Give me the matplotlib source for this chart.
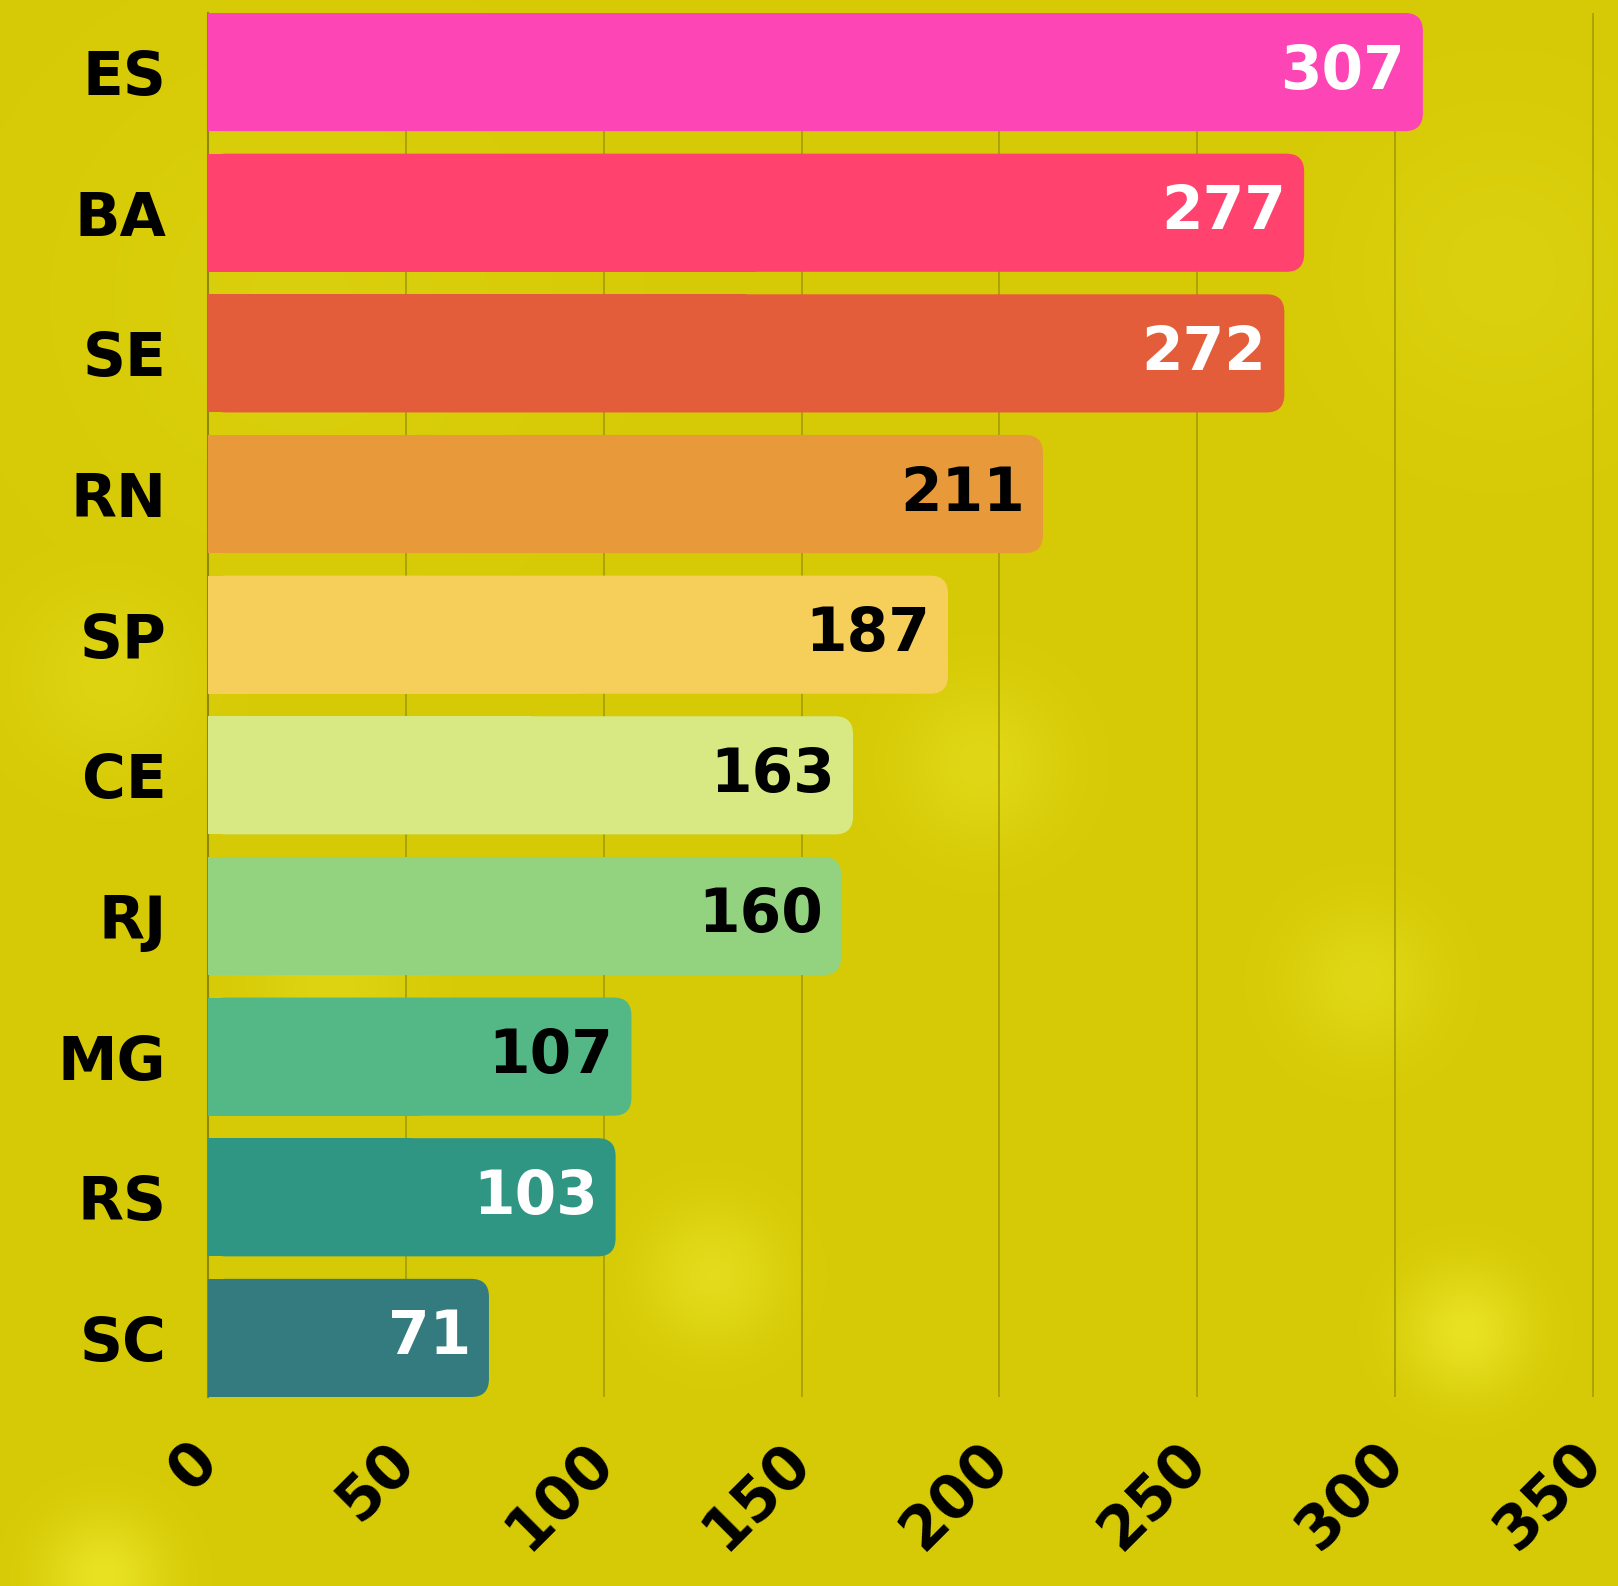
import numpy as np
import matplotlib
matplotlib.use("Agg")
import matplotlib.pyplot as plt
from matplotlib.patches import FancyBboxPatch, Rectangle

# data
states = ["ES", "BA", "SE", "RN", "SP", "CE", "RJ", "MG", "RS", "SC"]
values = [307, 277, 272, 211, 187, 163, 160, 107, 103, 71]
bar_colors = ["#fd45b5", "#ff426e", "#e35d3b", "#e89a3a", "#f5cf59",
              "#d8e983", "#93d37f", "#53b885", "#2f9684", "#337b7e"]
label_colors = ["white", "white", "white", "black", "black",
                "black", "black", "black", "white", "white"]
xticks = [0, 50, 100, 150, 200, 250, 300, 350]

W, H = 1618, 1586
fig = plt.figure(figsize=(W / 100, H / 100), dpi=100)

# background with a few soft glows
bg = fig.add_axes([0, 0, 1, 1], zorder=-10)
yy, xx = np.mgrid[0:H:2, 0:W:2]
base = np.array([214, 201, 5], float) / 255
glow = np.array([236, 232, 42], float) / 255
amt = np.zeros_like(xx, dtype=float)
blobs = [(108, 676, 70, 0.35), (980, 763, 60, 0.45), (1362, 980, 55, 0.45),
         (712, 1274, 50, 0.6), (1465, 1330, 45, 0.8), (103, 1575, 45, 0.8),
         (1500, 270, 120, 0.25), (330, 985, 60, 0.35), (300, 300, 200, 0.2)]
for bx, by, r, a in blobs:
    amt = np.maximum(amt, a * np.exp(-((xx - bx) ** 2 + (yy - by) ** 2) / (2 * r ** 2)))
img = base[None, None, :] * (1 - amt[..., None]) + glow[None, None, :] * amt[..., None]
bg.imshow(img, extent=[0, W, H, 0], aspect="auto", interpolation="bilinear")
bg.axis("off")

left, right = 208 / W, 1597 / W
top, bottom = 1 - 13 / H, 1 - 1397 / H
ax = fig.add_axes([left, bottom, right - left, top - bottom])
ax.patch.set_alpha(0)

font = "DejaVu Sans"
fs = 43
ypos = np.arange(len(states))
bar_h = 0.84
bars = ax.barh(ypos, values, height=bar_h, color=bar_colors, zorder=3)

ax.set_xlim(0, 351)
ax.set_ylim(len(states) - 1 + bar_h / 2, -bar_h / 2)

# rounded right ends
rx = 4.5
aspect = (18 / 140.7) / rx
for b, c in zip(bars, bar_colors):
    x0, y0, w, h = b.get_x(), b.get_y(), b.get_width(), b.get_height()
    b.set_visible(False)
    ax.add_patch(FancyBboxPatch((x0, y0), w, h,
                                boxstyle=f"round,pad=0,rounding_size={rx}",
                                mutation_aspect=aspect, fc=c, ec="none", zorder=3))
    ax.add_patch(Rectangle((x0, y0), w / 2, h, fc=c, ec="none", zorder=3))

for v, y, lc in zip(values, ypos, label_colors):
    ax.annotate(str(v), (v, y), xytext=(-13, 0), textcoords="offset points",
                ha="right", va="center", color=lc, fontsize=fs,
                fontfamily=font, fontweight="bold", zorder=5)

ax.set_yticks(ypos)
ax.set_yticklabels(states, fontsize=fs, fontfamily=font, fontweight="bold")
ax.set_xticks(xticks)
ax.set_xticklabels([str(t) for t in xticks], fontsize=fs, fontfamily=font,
                   fontweight="bold", rotation=45, ha="right",
                   rotation_mode="anchor", va="center")
ax.tick_params(axis="y", length=0, pad=30)
ax.tick_params(axis="x", length=0, pad=40)

ax.grid(axis="x", color="#a89f05", linewidth=1.3, zorder=1)
ax.set_axisbelow(True)
for s in ["top", "right", "bottom"]:
    ax.spines[s].set_visible(False)
ax.spines["left"].set_color("#8f8804")
ax.spines["left"].set_linewidth(1.5)

fig.savefig("out.png", dpi=100)
